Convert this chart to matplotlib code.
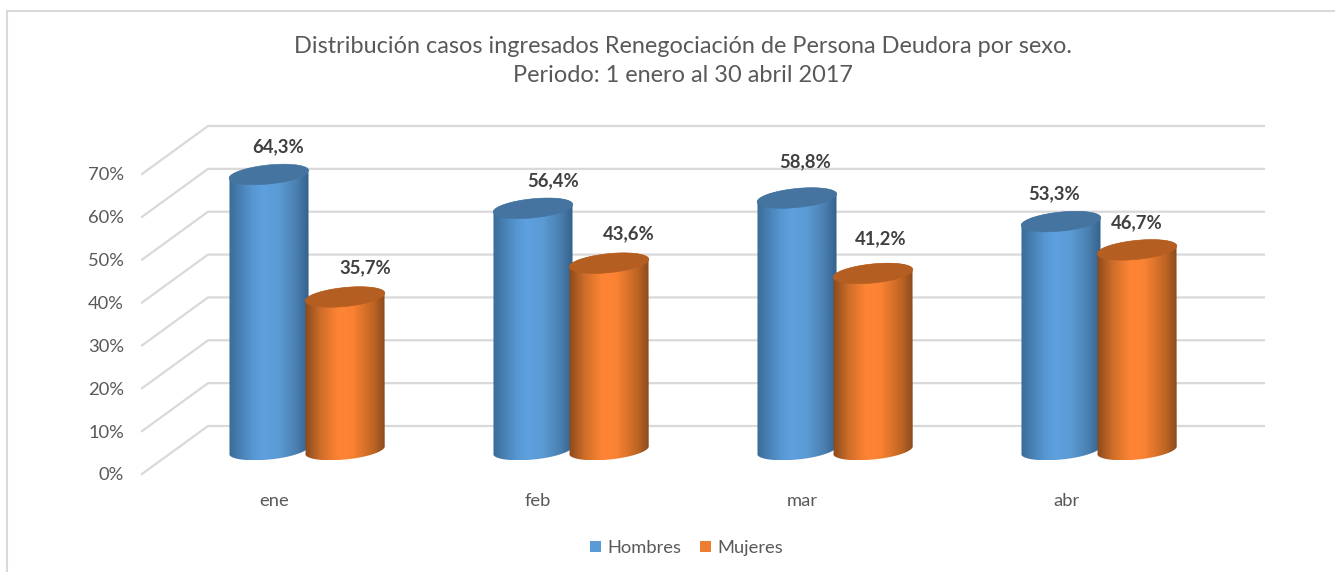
import numpy as np
import matplotlib
matplotlib.use("Agg")
import matplotlib.pyplot as plt
from matplotlib.colors import LinearSegmentedColormap
from matplotlib.image import AxesImage
from matplotlib.lines import Line2D
from matplotlib.patches import Patch, PathPatch
from matplotlib.path import Path
from matplotlib.transforms import IdentityTransform

months = ["ene", "feb", "mar", "abr"]
hombres = [64.3, 56.4, 58.8, 53.3]
mujeres = [35.7, 43.6, 41.2, 46.7]
yticks = [0, 10, 20, 30, 40, 50, 60, 70]
title = "Distribución casos ingresados Renegociación de Persona Deudora por sexo.\nPeriodo: 1 enero al 30 abril 2017"

W, H = 1335, 572
plt.rcParams["font.family"] = ["Lato", "DejaVu Sans"]
fig = plt.figure(figsize=(W / 100, H / 100), dpi=100, facecolor="white")
ax = fig.add_axes([142 / W, (H - 474) / H, (1198 - 142) / W, 300 / H])
ax.set_xlim(-0.5, 3.5)
ax.set_ylim(0, 70)
ax.set_autoscale_on(False)
ax.patch.set_visible(False)
for s in ax.spines.values():
    s.set_visible(False)
ax.set_xticks(range(len(months)), months)
ax.set_yticks(yticks, [f"{v}%" for v in yticks])
ax.tick_params(axis="x", length=0, pad=13.7, labelsize=13.2, labelcolor="#595959")
ax.tick_params(axis="y", length=0, pad=13, labelsize=13.2, labelcolor="#595959")
for lab in ax.get_yticklabels():
    lab.set_y(lab.get_position()[1])

ident = IdentityTransform()
DX, DY = 66, 48


def P(x, v, depth=0.0):
    cx, cy = ax.transData.transform((x, v))
    return cx + DX * depth, cy + DY * depth


GRID = "#D9D9D9"
for v in yticks:
    a, b, c = P(-0.5, v), P(-0.5, v, 1), P(3.5, v, 1)
    ax.add_line(Line2D([a[0], b[0], c[0]], [a[1], b[1], c[1]], color=GRID, lw=1.6,
                       transform=ident, clip_on=False, zorder=1,
                       solid_joinstyle="miter"))

A, B, TILT = 40.0, 9.5, np.deg2rad(5.8)


def ell(cx, cy, t):
    x = A * np.cos(t) * np.cos(TILT) - B * np.sin(t) * np.sin(TILT)
    y = A * np.cos(t) * np.sin(TILT) + B * np.sin(t) * np.cos(TILT)
    return cx + x, cy + y


def cylinder(x, v, stops, cap, z):
    cx0, cy0 = P(x, 0, 0.5)
    cx1, cy1 = P(x, v, 0.5)
    tt = np.linspace(0, 2 * np.pi, 121)
    xt, yt = ell(cx1, cy1, tt)
    lo = np.linspace(np.pi + 0.1, 2 * np.pi - 0.1, 60)
    xb, yb = ell(cx0, cy0, lo)
    up = np.linspace(0.1, np.pi + 0.1, 60)
    xu, yu = ell(cx1, cy1, up)
    verts = np.column_stack([np.r_[xu, xb, xu[0]], np.r_[yu, yb, yu[0]]])
    clip = PathPatch(Path(verts, closed=True), transform=ident, fc="none", ec="none")
    ax.add_patch(clip)
    cmap = LinearSegmentedColormap.from_list("c", stops)
    grad = np.linspace(0, 1, 256).reshape(1, -1)
    im = AxesImage(ax, cmap=cmap, interpolation="bilinear", zorder=z)
    im.set_data(grad)
    im.set_transform(ident)
    x0, x1 = verts[:, 0].min(), verts[:, 0].max()
    y0, y1 = verts[:, 1].min(), verts[:, 1].max()
    im.set_extent((x0, x1, y0, y1))
    ax.add_image(im)
    ax.set_xlim(-0.5, 3.5)
    ax.set_ylim(0, 70)
    im.set_clip_path(clip)
    ax.add_patch(PathPatch(Path(np.column_stack([xt, yt]), closed=True), transform=ident,
                           fc=cap, ec=cap, lw=0.4, zorder=z + 0.1, clip_on=False))


BLUE = [(0, "#3A6B98"), (0.3, "#5797D2"), (0.42, "#5EA1DF"), (0.62, "#5B9BD5"), (0.85, "#4A7FB0"), (1, "#34608A")]
ORANGE = [(0, "#8A4A1C"), (0.2, "#CF6E2A"), (0.42, "#FF8535"), (0.6, "#FA8232"), (0.85, "#C06625"), (1, "#8A4A1C")]
BAR = 0.288

offsets_h = [(9, 28), (20, 28), (8, 36), (-7, 28)]
offsets_m = [(20, 29), (20, 29), (8, 35), (0, 27)]

for i in range(len(months)):
    cylinder(i - BAR / 2, hombres[i], BLUE, "#44749F", 3 + i)
    cylinder(i + BAR / 2, mujeres[i], ORANGE, "#B55E21", 3.5 + i)
    for xx, vals, off in ((i - BAR / 2, hombres, offsets_h), (i + BAR / 2, mujeres, offsets_m)):
        px, py = P(xx, vals[i], 0.5)
        ax.text(px + off[i][0], py + off[i][1], f"{vals[i]:.1f}%".replace(".", ","),
                transform=ident, ha="center", va="center", fontsize=13.3,
                fontweight="bold", color="#404040", zorder=20, clip_on=False)

fig.text(683 / W, (H - 61) / H, title, ha="center", va="center", fontsize=16.9,
         color="#595959", linespacing=1.47)

handles = [Patch(fc="#5B9BD5", label="Hombres"), Patch(fc="#ED7D31", label="Mujeres")]
fig.legend(handles=handles, loc="center", bbox_to_anchor=(686.5 / W, (H - 548) / H),
           ncol=2, frameon=False, fontsize=13.2, labelcolor="#595959",
           handlelength=0.6, handleheight=0.6, handletextpad=0.35, columnspacing=1.0)

fig.add_artist(Line2D([6.5 / W, 6.5 / W, 1], [0, (H - 11) / H, (H - 11) / H], color=GRID,
                      lw=1.5, transform=fig.transFigure, solid_joinstyle="miter"))

fig.savefig("out.png", dpi=100, facecolor="white")
